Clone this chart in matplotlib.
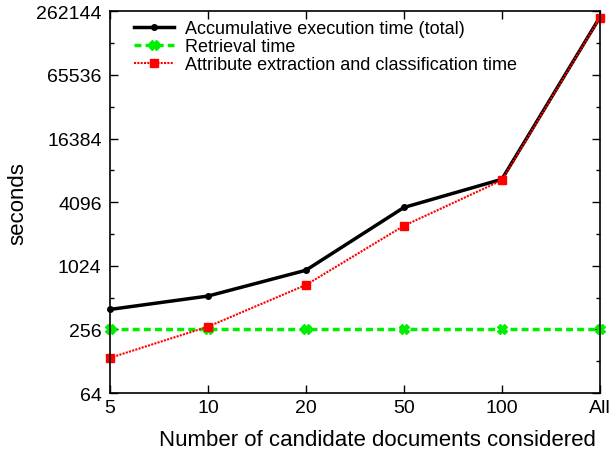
import numpy as np
import matplotlib.pyplot as plt
from matplotlib.ticker import FixedLocator, NullFormatter

plt.rcParams['font.family'] = ['Liberation Sans', 'DejaVu Sans']

categories = ['5', '10', '20', '50', '100', 'All']
total_time = [396, 530, 930, 3650, 6750, 230000]
retrieval_time = [256, 256, 256, 256, 256, 256]
extraction_time = [138, 272, 675, 2450, 6600, 228000]
yticks = [64, 256, 1024, 4096, 16384, 65536, 262144]

x = np.arange(len(categories))

fig = plt.figure(figsize=(6.14, 4.52), dpi=100)
ax = fig.add_axes([0.179, 0.128, 0.798, 0.845])

ax.plot(x, total_time, color='black', lw=2.5, marker='o', ms=4,
        label='Accumulative execution time (total)', clip_on=False)
ax.plot(x, retrieval_time, color='#00ee00', lw=2.5, ls=(0, (2, 1.2)), marker='X', ms=7,
        label='Retrieval time', clip_on=False)
ax.plot(x, extraction_time, color='red', lw=1.5, ls=(0, (1, 0.6)), marker='s', ms=6,
        label='Attribute extraction and classification time', clip_on=False)

ax.set_yscale('log', base=2)
ax.set_ylim(64, 262144)
ax.set_xlim(0, len(categories) - 1)
ax.yaxis.set_major_locator(FixedLocator(yticks))
ax.set_yticklabels([str(v) for v in yticks])
ax.yaxis.set_minor_locator(FixedLocator([2 ** k for k in range(7, 18, 2)]))
ax.yaxis.set_minor_formatter(NullFormatter())
ax.set_xticks(x)
ax.set_xticklabels(categories)

ax.tick_params(which='both', direction='in', top=True, right=True, labelsize=14, width=1)
ax.tick_params(which='major', length=6)
ax.tick_params(which='minor', length=3)
ax.tick_params(axis='y', pad=6)
ax.tick_params(axis='x', pad=4)
for s in ax.spines.values():
    s.set_linewidth(1.2)

ax.set_xlabel('Number of candidate documents considered', fontsize=16)
ax.xaxis.set_label_coords(0.545, -0.095)
ax.set_ylabel('seconds', fontsize=16, va='center')
ax.yaxis.set_label_coords(-0.188, 0.5)

ax.legend(loc='upper left', bbox_to_anchor=(0.035, 0.995), frameon=False, fontsize=13,
          handlelength=2.2, borderaxespad=0.0, labelspacing=0.05, handletextpad=0.6)

plt.savefig('out.png', dpi=100)
